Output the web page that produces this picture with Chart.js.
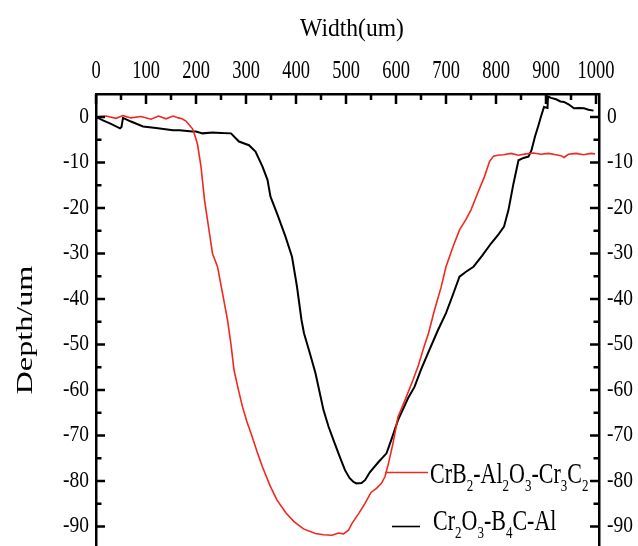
<!DOCTYPE html>
<html>
<head>
<meta charset="utf-8">
<script src="https://cdn.jsdelivr.net/npm/chart.js@4/dist/chart.umd.min.js"></script>
<style>
  html, body { margin: 0; padding: 0; background: #fff; overflow: hidden; }
  canvas { display: block; }
</style>
</head>
<body>
<canvas id="chart" width="638" height="550"></canvas>
<script>
// ====== DATA ======
const redName   = 'CrB2-Al2O3-Cr3C2';
const blackName = 'Cr2O3-B4C-Al';

const redWidth = [0, 20, 40, 54, 70, 90, 110, 125, 140, 154, 165, 172, 180, 187, 193, 197, 203, 210, 217, 227,
  233, 243, 253, 263, 270, 276, 285, 293, 302, 310, 322, 333, 348, 362, 380, 396, 415, 439, 455, 472,
  485, 495, 505, 512, 525, 538, 550, 561, 571, 578, 585, 594, 604, 618, 634, 645, 654, 665, 677, 690,
  700, 714, 727, 740, 750, 763, 777, 787, 795, 803, 815, 830, 845, 860, 875, 890, 905, 920, 930, 936,
  945, 960, 975, 990, 998];
const redDepth = [0, 0.2, -0.3, 0.3, -0.2, 0.1, -0.5, 0.2, -0.4, 0.2, -0.2, -0.4, -0.9, -1.8, -2.6, -3.8, -6, -10.9, -18.2, -25.6,
  -30, -32.9, -38.7, -44.6, -50, -55.6, -60, -63.7, -67, -69.5, -73.5, -76.9, -81, -84.2, -87, -88.9, -90.5, -91.5, -91.8, -91.9,
  -91.4, -91.6, -90.8, -89.3, -87.2, -84.9, -82.5, -81.6, -80.5, -79, -76.1, -71.7, -65.9, -62.2, -57.8, -54.5, -51.2, -47.5, -42.4, -37.5,
  -32.9, -28.5, -24.8, -22.5, -20.4, -16.8, -13.1, -9.8, -8.6, -8.4, -8.3, -8.0, -8.4, -8.1, -7.9, -8.2, -8.0, -8.3, -8.5, -8.9,
  -8.2, -8.0, -8.3, -8.0, -8.1];

const blackWidth = [0, 15, 30, 48, 51, 54, 70, 94, 120, 154, 167, 193, 200, 213, 233, 250, 270, 278, 286, 306,
  319, 333, 343, 349, 362, 379, 392, 402, 411, 416, 428, 439, 455, 465, 475, 487, 498, 507, 515, 521,
  531, 538, 548, 565, 581, 592, 604, 624, 637, 650, 664, 684, 700, 714, 727, 740, 755, 772, 790, 805,
  816, 825, 835, 845, 855, 865, 871, 878, 885, 890, 896, 903, 904, 910, 920, 929, 936, 945, 956, 966,
  976, 985, 995];
const blackDepth = [0, -0.8, -1.5, -2.5, -2.2, -0.2, -1.0, -2.1, -2.4, -2.9, -2.9, -3.2, -3.2, -3.6, -3.4, -3.5, -3.6, -4.5, -5.4, -6.2,
  -7.6, -10.9, -13.8, -17.5, -21.2, -26.3, -30.7, -37.3, -44.6, -47.5, -52, -56.3, -64.4, -68, -71, -74.5, -77.6, -79.3, -80.2, -80.5,
  -80.4, -79.8, -78, -75.8, -73.9, -70.5, -66.6, -61.8, -59.3, -55.5, -51.9, -46.8, -43.1, -39, -35.1, -34, -32.9, -30.5, -27.8, -25.8,
  -24.1, -20.4, -14.6, -9.5, -9.0, -8.7, -7.3, -4.3, -1.8, 0.1, 2.2, 2.0, 4.5, 4.2, 3.9, 3.4, 3.3, 2.8, 1.9, 2.0,
  1.9, 1.6, 1.4];

const widthTicks = [0, 100, 200, 300, 400, 500, 600, 700, 800, 900, 1000];
const depthTicks = [0, -10, -20, -30, -40, -50, -60, -70, -80, -90];

const RED = '#f0281e';
const FONT = '"Liberation Serif", "Times New Roman", serif';

// ====== TEXT HELPERS ======
function stretchText(ctx, str, x, y, size, sy, align, base) {
  ctx.save();
  ctx.translate(x, y);
  ctx.scale(1, sy);
  ctx.font = size + 'px ' + FONT;
  ctx.textAlign = align;
  ctx.textBaseline = base;
  ctx.fillText(str, 0, 0);
  ctx.restore();
}
// digits in the names are subscripts
function chemText(ctx, str, x, y, size, subSize, subDrop, sy) {
  ctx.save();
  ctx.translate(x, y);
  ctx.scale(1, sy);
  ctx.textAlign = 'left';
  ctx.textBaseline = 'alphabetic';
  let cx = 0;
  str.split(/(\d)/).filter(s => s).forEach(s => {
    const sub = /\d/.test(s);
    ctx.font = (sub ? subSize : size) + 'px ' + FONT;
    ctx.fillText(s, cx, sub ? subDrop / sy : 0);
    cx += ctx.measureText(s).width;
  });
  ctx.restore();
}

// ====== PLUGIN: inward ticks, labels, titles, legend ======
const decor = {
  id: 'decor',
  afterDraw(chart) {
    const { ctx, chartArea: a, scales } = chart;
    const x = scales.x, y = scales.y;
    ctx.save();
    ctx.strokeStyle = '#000';
    ctx.fillStyle = '#000';
    ctx.lineWidth = 2.5;

    // minor / major ticks
    ctx.beginPath();
    for (let v = 0; v <= 1000; v += 50) {
      const px = x.getPixelForValue(v);
      const len = v % 100 === 0 ? 10 : 6;
      ctx.moveTo(px, a.top); ctx.lineTo(px, a.top + len);
    }
    for (let v = 0; v >= -95; v -= 5) {
      const py = y.getPixelForValue(v);
      const len = v % 10 === 0 ? 9 : 5.5;
      ctx.moveTo(a.left, py); ctx.lineTo(a.left + len, py);
      ctx.moveTo(a.right, py); ctx.lineTo(a.right - len, py);
    }
    ctx.stroke();

    // tick labels
    widthTicks.forEach(v => {
      stretchText(ctx, String(v), x.getPixelForValue(v), 78, 18.5, 1.33, 'center', 'alphabetic');
    });
    depthTicks.forEach(v => {
      const py = y.getPixelForValue(v);
      stretchText(ctx, String(v), a.left - 7, py, 19.5, 1.13, 'right', 'middle');
      stretchText(ctx, String(v), a.right + 8, py, 19.5, 1.13, 'left', 'middle');
    });

    // axis titles
    stretchText(ctx, 'Width(um)', 352, 29, 23.6, 1.1, 'center', 'middle');
    ctx.save();
    ctx.translate(26, 330);
    ctx.rotate(-Math.PI / 2);
    ctx.scale(1.4, 1);
    ctx.font = '23px ' + FONT;
    ctx.textAlign = 'center';
    ctx.textBaseline = 'middle';
    ctx.fillText('Depth/um', 0, 0);
    ctx.restore();

    // legend
    ctx.lineWidth = 1.6;
    ctx.strokeStyle = RED;
    ctx.beginPath(); ctx.moveTo(385, 472.5); ctx.lineTo(428, 472.5); ctx.stroke();
    ctx.strokeStyle = '#000';
    ctx.beginPath(); ctx.moveTo(392, 526.5); ctx.lineTo(420, 526.5); ctx.stroke();
    chemText(ctx, redName, 430, 483, 22, 13, 8, 1.35);
    chemText(ctx, blackName, 433, 530, 22, 13, 8, 1.35);
    ctx.restore();
  }
};

// ====== CHART ======
const toPts = (xs, ys) => xs.map((v, i) => ({ x: v, y: ys[i] }));

new Chart(document.getElementById('chart'), {
  type: 'line',
  data: {
    datasets: [
      { label: redName, data: toPts(redWidth, redDepth), borderColor: RED, borderWidth: 1.6,
        pointRadius: 0, fill: false, tension: 0 },
      { label: blackName, data: toPts(blackWidth, blackDepth), borderColor: '#000', borderWidth: 2,
        pointRadius: 0, fill: false, tension: 0 }
    ]
  },
  options: {
    responsive: false,
    animation: false,
    devicePixelRatio: 1,
    layout: { padding: { top: 0, left: 0, right: 0, bottom: 2 } },
    plugins: { legend: { display: false }, tooltip: { enabled: false } },
    scales: {
      x: {
        type: 'linear', position: 'top', min: 0, max: 1006,
        ticks: { display: false, stepSize: 100, includeBounds: false },
        grid: { color: 'rgba(0,0,0,0)', drawTicks: false },
        border: { display: true, color: '#000', width: 2.5 },
        afterFit: s => { s.height = 94; }
      },
      y: {
        type: 'linear', position: 'left', min: -94.7, max: 5.05,
        ticks: { display: false, stepSize: 10, includeBounds: false },
        grid: { color: 'rgba(0,0,0,0)', drawTicks: false },
        border: { display: true, color: '#000', width: 2.5 },
        afterFit: s => { s.width = 96; }
      },
      y2: {
        type: 'linear', position: 'right', min: -94.7, max: 5.05,
        ticks: { display: false },
        grid: { display: false, drawTicks: false },
        border: { display: true, color: '#000', width: 2.5 },
        afterFit: s => { s.width = 39; }
      }
    }
  },
  plugins: [decor]
});
</script>
</body>
</html>
